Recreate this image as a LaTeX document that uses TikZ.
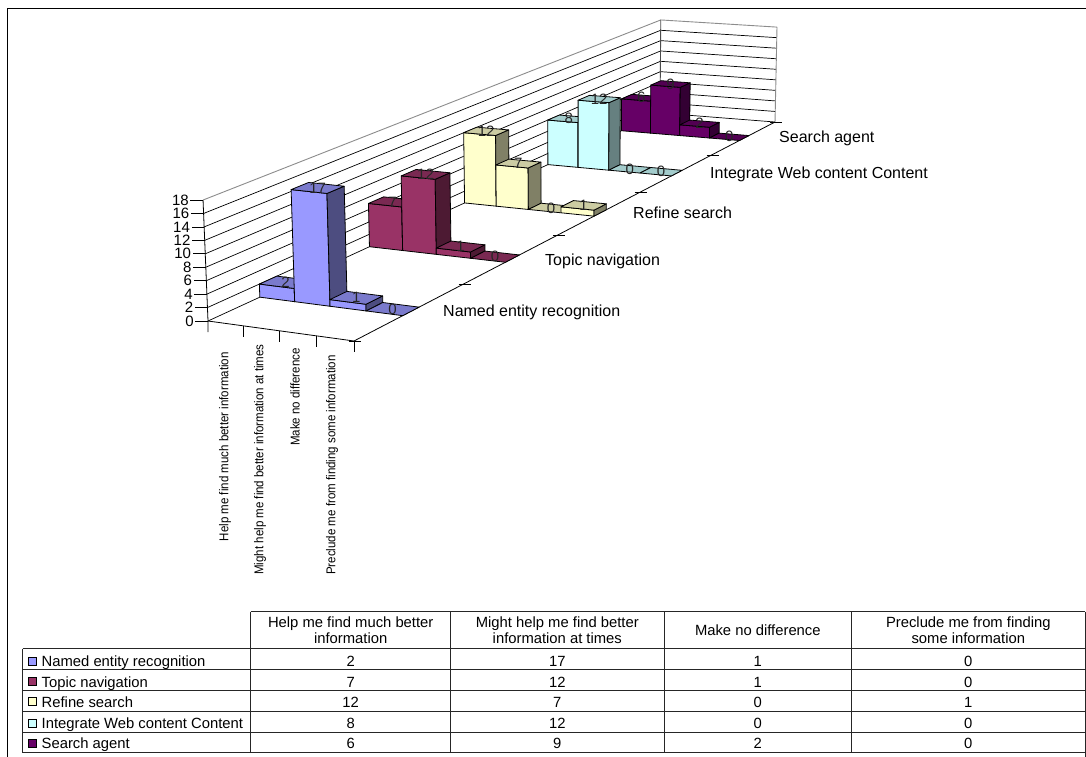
\documentclass[tikz,border=0pt]{standalone}
\usepackage{fontspec}
\setmainfont{Liberation Sans}
\usepackage{graphicx}
\definecolor{f1}{HTML}{9999FF}\definecolor{t1}{HTML}{7A7ACC}\definecolor{s1}{HTML}{4D4D80}
\definecolor{f2}{HTML}{993366}\definecolor{t2}{HTML}{7A2952}\definecolor{s2}{HTML}{4D1A33}
\definecolor{f3}{HTML}{FFFFCC}\definecolor{t3}{HTML}{CCCCA3}\definecolor{s3}{HTML}{808066}
\definecolor{f4}{HTML}{CCFFFF}\definecolor{t4}{HTML}{A3CCCC}\definecolor{s4}{HTML}{668080}
\definecolor{f5}{HTML}{660066}\definecolor{t5}{HTML}{520052}\definecolor{s5}{HTML}{330033}

% perspective projection of chart point (category x, value y, series depth z)
\newcommand\projP[4]{%
  \pgfmathsetmacro\pjW{1-0.0085077*(#2)+0.078826*(#4)}%
  \pgfmathsetmacro\pjU{(208+33.488*(#2)+142.425*(#4))/\pjW}%
  \pgfmathsetmacro\pjV{(321+2.0988*(#2)-32.693*(#4))/\pjW}%
  \pgfmathsetmacro\pjH{(#3)*6.72*exp(-0.79*ln(\pjW))}%
  \pgfmathsetmacro\pjX{\pjU+(\pjU-584)/9170*\pjH}%
  \pgfmathsetmacro\pjY{\pjH-\pjV}%
  \coordinate (#1) at (\pjX pt,\pjY pt);}

% bar: category i, series slot k, value h, colour index n
\newcommand\drawBarX[4]{%
  \pgfmathsetmacro\bxA{#1}\pgfmathsetmacro\bxB{#1+1}%
  \pgfmathsetmacro\bzA{#2+0.425}\pgfmathsetmacro\bzB{#2+0.575}%
  \projP{a}{\bxA}{0}{\bzA}\projP{b}{\bxB}{0}{\bzA}\projP{c}{\bxB}{0}{\bzB}%
  \projP{A}{\bxA}{#3}{\bzA}\projP{B}{\bxB}{#3}{\bzA}\projP{C}{\bxB}{#3}{\bzB}\projP{D}{\bxA}{#3}{\bzB}%
  \ifnum#3>0
    \draw[barline,fill=f#4] (a)--(b)--(B)--(A)--cycle;
    \draw[barline,fill=s#4] (b)--(c)--(C)--(B)--cycle;
  \fi
  \draw[barline,fill=t#4] (A)--(B)--(C)--(D)--cycle;}

\newcommand\valLab[3]{%
  \pgfmathsetmacro\lbX{#1+0.5}\pgfmathsetmacro\lbZ{#2+0.5}%
  \projP{L}{\lbX}{#3}{\lbZ}%
  \node[vallab] (v#2#1) at (L) {#3};}

\begin{document}
\begin{tikzpicture}[x=1pt,y=1pt,
  grid/.style={black, line width=0.7pt},
  walledge/.style={black!45, line width=0.9pt},
  axisline/.style={black, line width=0.8pt},
  barline/.style={draw=black, line width=0.8pt, line join=round},
  ticklab/.style={font=\fontsize{15}{17}\selectfont, inner sep=0pt},
  vallab/.style={font=\fontsize{15}{17}\selectfont, inner sep=0pt, text=black!85},
  serlab/.style={font=\fontsize{16}{18}\selectfont, inner sep=0pt, anchor=base west},
  catlab/.style={font=\fontsize{12.8}{14}\selectfont, inner sep=0pt, rotate=90, anchor=east},
  tab/.style={black!85, line width=0.9pt},
  tabtxt/.style={font=\fontsize{14.8}{16}\selectfont, inner sep=0pt},
]
\useasboundingbox (0,0) rectangle (1086,-756);
\fill[white] (0,0) rectangle (1086,-756);
\clip (0,0) rectangle (1086,-756);

% outer frame
\draw[black, line width=1.5pt] (7.7,-770) -- (7.7,-8.7) -- (1090,-8.7);

% wall gridlines
\foreach \t in {0,2,...,16} {
  \projP{g0}{0}{\t}{0}\projP{g1}{0}{\t}{5}\projP{g2}{4}{\t}{5}
  \draw[grid] (g0)--(g1)--(g2);
}
\projP{g0}{0}{18}{0}\projP{g1}{0}{18}{5}\projP{g2}{4}{18}{5}
\draw[walledge] (g0)--(g1)--(g2);
\projP{w1}{0}{0}{5}\projP{w2}{0}{18}{5}
\draw[black!70, line width=0.9pt] (w1)--(w2);
\projP{w3}{4}{0}{5}\projP{w4}{4}{18}{5}
\draw[walledge] (w3)--(w4);

% value axis
\foreach \t in {0,2,...,18} {
  \projP{q}{0}{\t}{0}
  \draw[axisline] (q) -- ++(-12.6,0) node[ticklab,anchor=east,xshift=-1.3pt] (yl\t) {\t};
}
\projP{o}{0}{0}{0}\projP{otop}{0}{18}{0}
\draw[axisline] (otop)--(o)--++(0,-11);
% category axis
\projP{e4}{4}{0}{0}
\draw[axisline] (o)--(e4);
\foreach \i in {1,2,3,4} {\projP{q}{\i}{0}{0}\draw[axisline] (q)--++(0,-11);}
% series axis
\projP{r5}{4}{0}{5}
\draw[axisline] (e4)--(r5);
\foreach \k in {0,...,5} {\projP{q}{4}{0}{\k}\draw[axisline] ([xshift=-5pt]q)--([xshift=7pt]q);}

% bars, back to front
\drawBarX{0}{4}{6}{5}\drawBarX{1}{4}{9}{5}\drawBarX{2}{4}{2}{5}\drawBarX{3}{4}{0}{5}
\drawBarX{0}{3}{8}{4}\drawBarX{1}{3}{12}{4}\drawBarX{2}{3}{0}{4}\drawBarX{3}{3}{0}{4}
\drawBarX{0}{2}{12}{3}\drawBarX{1}{2}{7}{3}\drawBarX{2}{2}{0}{3}\drawBarX{3}{2}{1}{3}
\drawBarX{0}{1}{7}{2}\drawBarX{1}{1}{12}{2}\drawBarX{2}{1}{1}{2}\drawBarX{3}{1}{0}{2}
\drawBarX{0}{0}{2}{1}\drawBarX{1}{0}{17}{1}\drawBarX{2}{0}{1}{1}\drawBarX{3}{0}{0}{1}

% data labels
\valLab{0}{4}{6}\valLab{1}{4}{9}\valLab{2}{4}{2}\valLab{3}{4}{0}
\valLab{0}{3}{8}\valLab{1}{3}{12}\valLab{2}{3}{0}\valLab{3}{3}{0}
\valLab{0}{2}{12}\valLab{1}{2}{7}\valLab{2}{2}{0}\valLab{3}{2}{1}
\valLab{0}{1}{7}\valLab{1}{1}{12}\valLab{2}{1}{1}\valLab{3}{1}{0}
\valLab{0}{0}{2}\valLab{1}{0}{17}\valLab{2}{0}{1}\valLab{3}{0}{0}

% series labels
\node[serlab] (sn1) at (443,-316.5) {Named entity recognition};
\node[serlab] (sn2) at (545,-265.5) {Topic navigation};
\node[serlab] (sn3) at (633,-218.5) {Refine search};
\node[serlab] (sn4) at (710,-178.5) {Integrate Web content Content};
\node[serlab] (sn5) at (779,-142.5) {Search agent};

% category labels
\node[catlab] (c1) at (225,-352) {\scalebox{0.9}[1]{Help me find much better information}};
\node[catlab] (c2) at (260,-344) {\scalebox{0.9}[1]{Might help me find better information at times}};
\node[catlab] (c3) at (295,-348) {\scalebox{0.9}[1]{Make no difference}};
\node[catlab] (c4) at (332,-355) {\scalebox{0.9}[1]{Preclude me from finding some information}};

% data table
\draw[tab] (1085,-611.7) -- (1085,-770);
\draw[tab] (250.7,-611.7) -- (1085,-611.7);
\foreach \yy in {648.5,669.5,690.5,711.3,732,752.5} {\draw[tab] (22.7,-\yy) -- (1085,-\yy);}
\draw[tab] (22.7,-648.5) -- (22.7,-752.5);
\foreach \xx in {250.7,450.7,664,851.7} {\draw[tab] (\xx,-611.7) -- (\xx,-752.5);}

\node[tabtxt,align=center] (h1) at (350.7,-630) {Help me find much better\\information};
\node[tabtxt,align=center] (h2) at (557.3,-630) {Might help me find better\\information at times};
\node[tabtxt] (h3) at (757.8,-630) {Make no difference};
\node[tabtxt,align=center] (h4) at (968.3,-630) {Preclude me from finding\\some information};

\foreach \r/\c/\nm/\va/\vb/\vc/\vd in {1/661/Named entity recognition/2/17/1/0,
    2/681.7/Topic navigation/7/12/1/0, 3/701.7/Refine search/12/7/0/1,
    4/723/Integrate Web content Content/8/12/0/0, 5/743/Search agent/6/9/2/0} {
  \draw[black, line width=0.7pt, fill=f\r] (28,{-\c+4}) rectangle (36,{-\c-4});
  \node[tabtxt,anchor=base west] (rl\r) at (41.5,{-\c-5.3}) {\nm};
  \node[tabtxt,anchor=base] (ra\r) at (350.7,{-\c-5.3}) {\va};
  \node[tabtxt,anchor=base] (rb\r) at (557.3,{-\c-5.3}) {\vb};
  \node[tabtxt,anchor=base] (rc\r) at (757.8,{-\c-5.3}) {\vc};
  \node[tabtxt,anchor=base] (rd\r) at (968.3,{-\c-5.3}) {\vd};
}
\end{tikzpicture}
\end{document}
